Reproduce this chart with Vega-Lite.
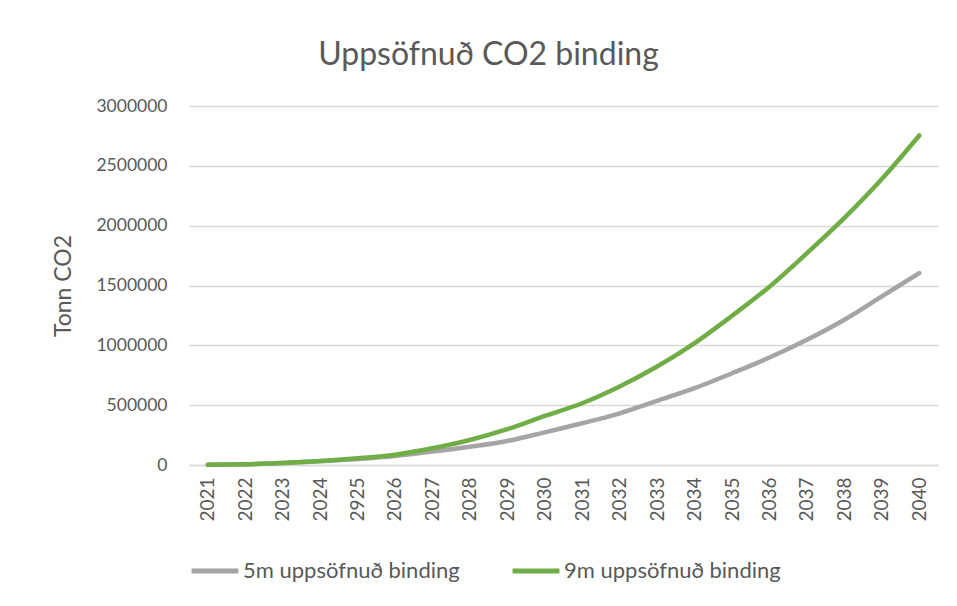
{
  "$schema": "https://vega.github.io/schema/vega-lite/v6.json",
  "autosize": "none",
  "width": 749,
  "height": 359,
  "padding": {"left": 189, "top": 106, "right": 19, "bottom": 141},
  "background": "white",
  "config": {"font": "Lato", "view": {"stroke": null}},
  "title": {
    "text": "Uppsöfnuð CO2 binding",
    "fontSize": 32,
    "fontWeight": "normal",
    "color": "#595959",
    "anchor": "middle",
    "dx": -75,
    "offset": 25
  },
  "data": {
    "values": [
      {"year": "2021", "series": "5m uppsöfnuð binding", "value": 2000},
      {"year": "2022", "series": "5m uppsöfnuð binding", "value": 6000},
      {"year": "2023", "series": "5m uppsöfnuð binding", "value": 16000},
      {"year": "2024", "series": "5m uppsöfnuð binding", "value": 31000},
      {"year": "2925", "series": "5m uppsöfnuð binding", "value": 50000},
      {"year": "2026", "series": "5m uppsöfnuð binding", "value": 75000},
      {"year": "2027", "series": "5m uppsöfnuð binding", "value": 112000},
      {"year": "2028", "series": "5m uppsöfnuð binding", "value": 153000},
      {"year": "2029", "series": "5m uppsöfnuð binding", "value": 201000},
      {"year": "2030", "series": "5m uppsöfnuð binding", "value": 273000},
      {"year": "2031", "series": "5m uppsöfnuð binding", "value": 349000},
      {"year": "2032", "series": "5m uppsöfnuð binding", "value": 432000},
      {"year": "2033", "series": "5m uppsöfnuð binding", "value": 536000},
      {"year": "2034", "series": "5m uppsöfnuð binding", "value": 642000},
      {"year": "2035", "series": "5m uppsöfnuð binding", "value": 767000},
      {"year": "2036", "series": "5m uppsöfnuð binding", "value": 898000},
      {"year": "2037", "series": "5m uppsöfnuð binding", "value": 1046000},
      {"year": "2038", "series": "5m uppsöfnuð binding", "value": 1214000},
      {"year": "2039", "series": "5m uppsöfnuð binding", "value": 1409000},
      {"year": "2040", "series": "5m uppsöfnuð binding", "value": 1604000},
      {"year": "2021", "series": "9m uppsöfnuð binding", "value": 2000},
      {"year": "2022", "series": "9m uppsöfnuð binding", "value": 7000},
      {"year": "2023", "series": "9m uppsöfnuð binding", "value": 17000},
      {"year": "2024", "series": "9m uppsöfnuð binding", "value": 33000},
      {"year": "2925", "series": "9m uppsöfnuð binding", "value": 56000},
      {"year": "2026", "series": "9m uppsöfnuð binding", "value": 86000},
      {"year": "2027", "series": "9m uppsöfnuð binding", "value": 140000},
      {"year": "2028", "series": "9m uppsöfnuð binding", "value": 209000},
      {"year": "2029", "series": "9m uppsöfnuð binding", "value": 299000},
      {"year": "2030", "series": "9m uppsöfnuð binding", "value": 410000},
      {"year": "2031", "series": "9m uppsöfnuð binding", "value": 516000},
      {"year": "2032", "series": "9m uppsöfnuð binding", "value": 656000},
      {"year": "2033", "series": "9m uppsöfnuð binding", "value": 823000},
      {"year": "2034", "series": "9m uppsöfnuð binding", "value": 1018000},
      {"year": "2035", "series": "9m uppsöfnuð binding", "value": 1247000},
      {"year": "2036", "series": "9m uppsöfnuð binding", "value": 1490000},
      {"year": "2037", "series": "9m uppsöfnuð binding", "value": 1770000},
      {"year": "2038", "series": "9m uppsöfnuð binding", "value": 2065000},
      {"year": "2039", "series": "9m uppsöfnuð binding", "value": 2390000},
      {"year": "2040", "series": "9m uppsöfnuð binding", "value": 2754000}
    ]
  },
  "mark": {"type": "line", "strokeWidth": 4.5, "interpolate": "monotone", "strokeCap": "round"},
  "encoding": {
    "x": {
      "field": "year",
      "type": "ordinal",
      "sort": null,
      "scale": {"type": "point", "padding": 0.5},
      "axis": {
        "title": null,
        "labelAngle": -90,
        "labelFontSize": 19,
        "labelColor": "#595959",
        "labelPadding": 12,
        "ticks": false,
        "domainColor": "#D9D9D9",
        "domainWidth": 1.5,
        "grid": false
      }
    },
    "y": {
      "field": "value",
      "type": "quantitative",
      "scale": {"domain": [0, 3000000], "nice": false},
      "axis": {
        "title": "Tonn CO2",
        "titleFontSize": 23,
        "titleFontWeight": "normal",
        "titleColor": "#595959",
        "titlePadding": 20,
        "values": [0, 500000, 1000000, 1500000, 2000000, 2500000, 3000000],
        "format": "d",
        "labelFontSize": 17.5,
        "labelColor": "#595959",
        "labelPadding": 22,
        "ticks": false,
        "domain": false,
        "gridColor": "#D9D9D9",
        "gridWidth": 1.5
      }
    },
    "color": {
      "field": "series",
      "type": "nominal",
      "scale": {"domain": ["5m uppsöfnuð binding", "9m uppsöfnuð binding"], "range": ["#A5A5A5", "#70AD47"]},
      "legend": {
        "title": null,
        "orient": "none",
        "direction": "horizontal",
        "legendX": 0,
        "legendY": 439,
        "symbolType": "stroke",
        "symbolSize": 2200,
        "symbolStrokeWidth": 5,
        "labelFontSize": 22,
        "labelLimit": 0,
        "labelColor": "#595959",
        "labelOffset": 2,
        "columnPadding": 42
      }
    }
  }
}
